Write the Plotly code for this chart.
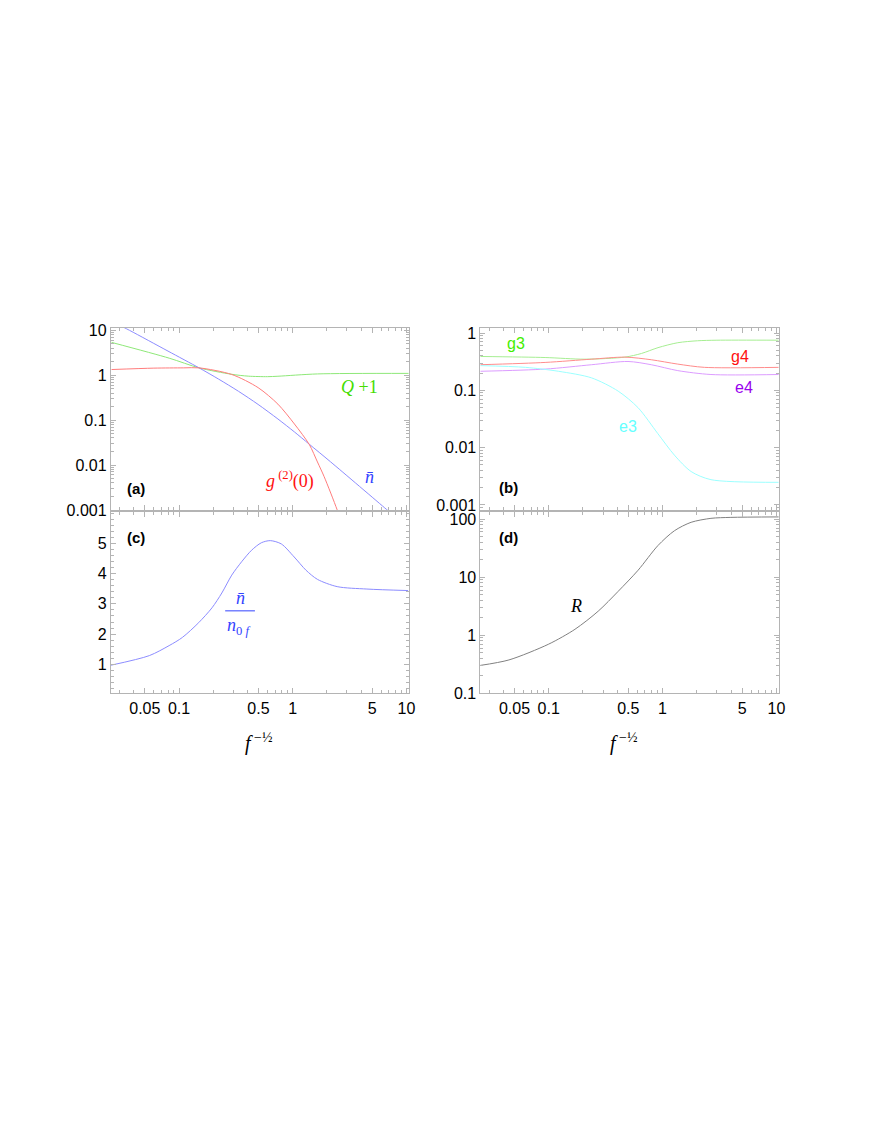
import plotly.graph_objects as go

W, H = 872, 1128

# ---- panel (a): log-log, photon statistics ----
a_nbar_x = [0.0255, 0.0367, 0.08, 0.15, 0.223, 0.333, 0.496, 0.741, 1.035, 1.40, 2.15, 6.7, 8.0]
a_nbar_y = [16.0, 10.0, 3.45, 1.46, 0.82, 0.44, 0.224, 0.106, 0.0546, 0.029, 0.0118, 0.00102, 0.00069]
a_q_x = [0.0255, 0.082, 0.15, 0.291, 0.406, 0.6, 0.741, 1.65, 10.5]
a_q_y = [5.4, 2.4, 1.46, 1.05, 0.955, 0.93, 0.95, 1.07, 1.1]
a_g2_x = [0.0255, 0.06, 0.11, 0.15, 0.291, 0.496, 0.741, 1.035, 1.40, 1.65, 1.89, 2.46, 2.8]
a_g2_y = [1.34, 1.44, 1.46, 1.46, 1.04, 0.53, 0.227, 0.082, 0.0285, 0.0117, 0.0055, 0.001, 0.00038]

# ---- panel (b): level populations ----
b_g3_x = [0.025, 0.093, 0.208, 0.466, 0.652, 0.912, 1.36, 2.03, 3.0, 10.5]
b_g3_y = [0.39, 0.374, 0.35, 0.38, 0.44, 0.556, 0.678, 0.733, 0.75, 0.75]
b_g4_x = [0.025, 0.093, 0.238, 0.466, 0.796, 1.36, 2.33, 10.5]
b_g4_y = [0.28, 0.307, 0.35, 0.38, 0.342, 0.287, 0.252, 0.252]
b_e4_x = [0.025, 0.093, 0.238, 0.497, 0.796, 1.36, 2.66, 10.5]
b_e4_y = [0.215, 0.235, 0.28, 0.319, 0.28, 0.221, 0.189, 0.189]
b_e3_x = [0.025, 0.0624, 0.122, 0.238, 0.407, 0.608, 0.91, 1.27, 1.78, 2.66, 10.5]
b_e3_y = [0.27, 0.252, 0.215, 0.165, 0.097, 0.05, 0.0175, 0.0074, 0.00383, 0.00276, 0.00248]

# ---- panel (c): nbar / n0f, linear y ----
c_x = [0.025, 0.0548, 0.0818, 0.107, 0.149, 0.195, 0.238, 0.291, 0.355, 0.434, 0.53, 0.635,
       0.794, 1.03, 1.31, 1.65, 2.46, 4.49, 10.35]
c_y = [0.97, 1.29, 1.62, 1.89, 2.38, 2.87, 3.36, 3.95, 4.39, 4.77, 5.02, 5.09,
       4.98, 4.55, 4.11, 3.81, 3.57, 3.49, 3.44]

# ---- panel (d): R ----
d_x = [0.0249, 0.0447, 0.1, 0.17, 0.272, 0.407, 0.61, 0.91, 1.27, 1.78, 2.66, 3.98, 10.5]
d_y = [0.303, 0.377, 0.706, 1.27, 2.6, 5.7, 13.2, 35, 63, 88, 103, 107, 109]

x_ticks = [0.05, 0.1, 0.5, 1, 5, 10]
x_labels = ["0.05", "0.1", "0.5", "1", "5", "10"]
a_ticks = [0.001, 0.01, 0.1, 1, 10]
b_ticks = [0.001, 0.01, 0.1, 1]
c_ticks = [1, 2, 3, 4, 5]
d_ticks = [0.1, 1, 10, 100]


def fx(p):
    return p / W


def fy(p):
    return 1 - p / H


FRAME = "#b4b4b4"
SANS = "Liberation Sans"
SERIF = "Liberation Serif"

fig = go.Figure()


def curve(x, y, color, n):
    s = "" if n == 1 else str(n)
    fig.add_trace(go.Scatter(x=x, y=y, mode="lines", showlegend=False, hoverinfo="skip",
                             line=dict(color=color, width=1, shape="spline", smoothing=0.8),
                             xaxis="x" + s, yaxis="y" + s))


curve(a_q_x, a_q_y, "#8ee878", 1)
curve(a_nbar_x, a_nbar_y, "#8c8cff", 1)
curve(a_g2_x, a_g2_y, "#ff7c7c", 1)
curve(b_g3_x, b_g3_y, "#a6ee92", 2)
curve(b_g4_x, b_g4_y, "#ff8c8c", 2)
curve(b_e4_x, b_e4_y, "#dc9cff", 2)
curve(b_e3_x, b_e3_y, "#9cffff", 2)
curve(c_x, c_y, "#8c8cff", 3)
curve(d_x, d_y, "#808080", 4)


def axis(**kw):
    d = dict(showline=True, linecolor=FRAME, linewidth=1, mirror="allticks", ticks="inside",
             ticklen=5, tickcolor=FRAME, showgrid=False, zeroline=False,
             tickfont=dict(family=SANS, size=16, color="black"))
    d.update(kw)
    return d


def xlog(dom, anchor, labels):
    return axis(type="log", range=[-1.6, 1.02], domain=dom, anchor=anchor,
                tickvals=x_ticks, ticktext=x_labels, showticklabels=labels,
                minor=dict(ticks="inside", ticklen=3, tickcolor=FRAME, dtick="D1"))


def ylog(dom, anchor, rng, vals):
    return axis(type="log", range=rng, domain=dom, anchor=anchor,
                tickvals=vals, ticktext=[f"{v:g}" for v in vals],
                minor=dict(ticks="inside", ticklen=3, tickcolor=FRAME, dtick="D1"))


left = [fx(111.7), fx(412)]
right = [fx(484.3), fx(785)]
top = [fy(510.7), fy(326)]
bottom = [fy(696.7), fy(512.7)]

fig.update_layout(
    width=W, height=H, margin=dict(l=0, r=0, t=0, b=0),
    paper_bgcolor="white", plot_bgcolor="white",
    xaxis=xlog(left, "y", False), yaxis=ylog(top, "x", [-3, 1.06], a_ticks),
    xaxis2=xlog(right, "y2", False), yaxis2=ylog(top, "x2", [-3.087, 0.094], b_ticks),
    xaxis3=xlog(left, "y3", True),
    yaxis3=axis(range=[0.04, 6.04], domain=bottom, anchor="x3", tickvals=c_ticks,
                minor=dict(ticks="inside", ticklen=3, tickcolor=FRAME, dtick=0.2)),
    xaxis4=xlog(right, "y4", True), yaxis4=ylog(bottom, "x4", [-1.0, 2.124], d_ticks),
)


def label(text, x, y, color="black", family=SANS, size=15):
    fig.add_annotation(text=text, x=fx(x), y=fy(y), xref="paper", yref="paper",
                       xanchor="center", yanchor="middle", showarrow=False,
                       font=dict(family=family, size=size, color=color))


label("<b>(a)</b>", 137, 489, size=15)
label("<b>(b)</b>", 513, 488, size=15)
label("<b>(c)</b>", 137, 539, size=15)
label("<b>(d)</b>", 513, 539, size=15)

label("<i>Q</i> +1", 362, 386, "#44dd00", SERIF, 18)
label("<i>g</i><sup> (2)</sup>(0)", 292, 480, "#ff1010", SERIF, 18)
label("<i>n̄</i>", 372, 477, "#3344ff", SERIF, 18)

label("g3", 520, 342, "#44ee00", size=16)
label("g4", 746, 355, "#ff1010", size=16)
label("e4", 750, 387, "#9900ee", size=16)
label("e3", 633, 426, "#66ffff", size=16)

label("<i>n̄</i>", 242, 600, "#3344ff", SERIF, 18)
label("<i>n</i><sub>0 <i>f</i></sub>", 240, 629, "#3344ff", SERIF, 18)
fig.add_shape(type="line", xref="paper", yref="paper", x0=fx(227), x1=fx(257),
              y0=fy(613), y1=fy(613), line=dict(color="#3344ff", width=1))

label("<i>R</i>", 581, 608, "black", SERIF, 18)

label("<i>f</i><sup> −½</sup>", 261, 746, "black", SERIF, 20)
label("<i>f</i><sup> −½</sup>", 629, 746, "black", SERIF, 20)

# drop the browser's default page margin so paper coords match window pixels
fig.write_html("out.html", config={"displayModeBar": False},
               post_script="document.body.style.margin='0';")
